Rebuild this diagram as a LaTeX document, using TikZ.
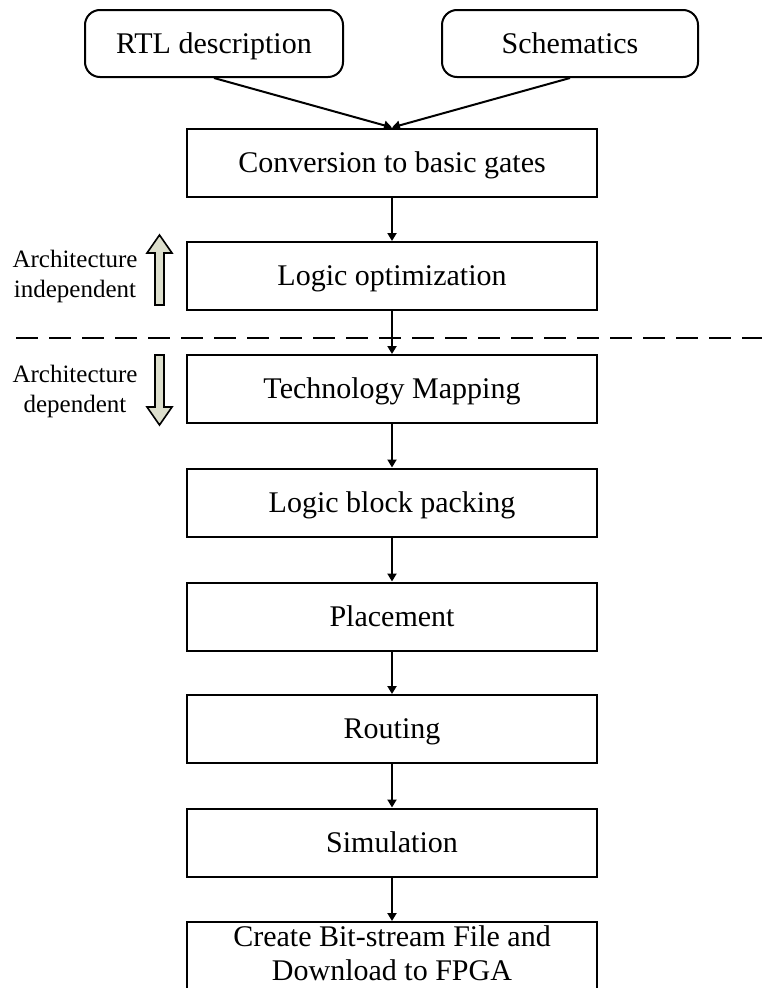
\documentclass[tikz,border=0pt]{standalone}
\usepackage{fontspec}
\setmainfont{Liberation Serif}
\usetikzlibrary{arrows.meta}
\definecolor{archfill}{RGB}{221,223,205}
\begin{document}
\begin{tikzpicture}[x=1pt,y=-1pt,
  boxfont/.style={font=\fontsize{30}{34}\selectfont},
  stepbox/.style={draw,line width=2pt,minimum width=410pt,minimum height=68pt,
    boxfont,inner sep=0pt,text height=19.8pt,text depth=0pt},
  lastbox/.style={draw,line width=2pt,minimum width=410pt,minimum height=70pt,inner sep=0pt},
  lasttext/.style={boxfont,align=center,inner sep=0pt},
  srcbox/.style={draw,line width=2pt,rounded corners=15pt,minimum height=67pt,
    boxfont,inner sep=0pt,text height=19.8pt,text depth=0pt},
  sidelabel/.style={font=\fontsize{25}{30}\selectfont,align=center,inner sep=0pt},
  flow/.style={line width=2pt,-{Triangle[width=9pt,length=8pt]}},
  blockarrow/.style={line width=1.6pt,fill=archfill,line join=miter}]
\useasboundingbox (0,0) rectangle (762,988);

\node[srcbox,minimum width=258pt] (rtl) at (214,43.5) {RTL description};
\node[srcbox,minimum width=256pt] (sch) at (570,43.5) {Schematics};

\node[stepbox] (conv) at (392,162.5) {Conversion to basic gates};
\node[stepbox] (lopt) at (392,276) {Logic optimization};
\node[stepbox] (tech) at (392,389) {Technology Mapping};
\node[stepbox] (lbp) at (392,502.5) {Logic block packing};
\node[stepbox] (place) at (392,616.5) {Placement};
\node[stepbox] (route) at (392,729) {Routing};
\node[stepbox] (sim) at (392,842.5) {Simulation};
\node[lastbox] (create) at (392,957) {};
\node[lasttext,yshift=4pt] (createtext) at (create.center) {Create Bit-stream File and\\Download to FPGA};

\coordinate (dl) at (16,338);
\coordinate (dr) at (762,338);
\draw[line width=2.5pt,dash pattern=on 22pt off 11pt] (dl) -- (dr);

\draw[flow] (rtl.south) -- (conv.north);
\draw[flow] (sch.south) -- (conv.north);
\draw[flow] (conv) -- (lopt);
\draw[flow] (lopt) -- (tech);
\draw[flow] (tech) -- (lbp);
\draw[flow] (lbp) -- (place);
\draw[flow] (place) -- (route);
\draw[flow] (route) -- (sim);
\draw[flow] (sim) -- (create);

\node[sidelabel] (indep) at (75,276) {Architecture\\independent};
\node[sidelabel] (dep) at (75,391) {Architecture\\dependent};

\draw[blockarrow] (155,305) -- (155,253) -- (147,253) -- (159.5,235) -- (172,253) -- (164,253) -- (164,305) -- cycle;
\draw[blockarrow] (155,355) -- (155,407) -- (147,407) -- (159.5,425) -- (172,407) -- (164,407) -- (164,355) -- cycle;
\end{tikzpicture}
\end{document}
